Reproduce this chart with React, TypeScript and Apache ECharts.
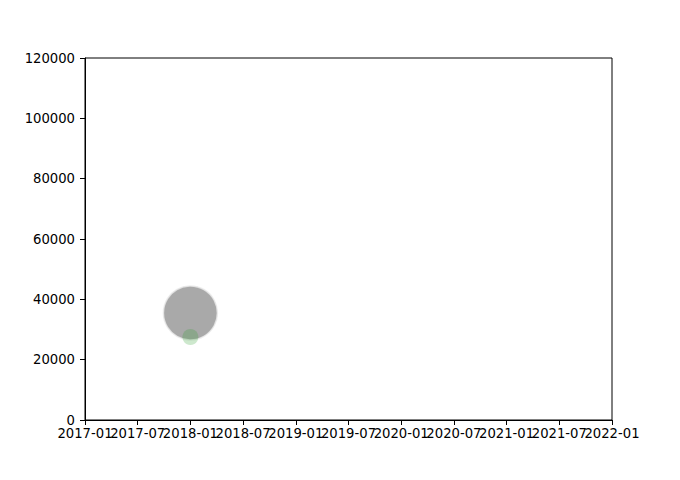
import React, { useEffect, useRef } from "react";
import * as echarts from "echarts";

const xTickLabels = ["2017-01","2017-07","2018-01","2018-07","2019-01","2019-07","2020-01","2020-07","2021-01","2021-07","2022-01"];
const grayDates = ["2018-01"];
const grayValues = [35500];
const graySizes = [54];
const greenDates = ["2018-01"];
const greenValues = [27500];
const greenSizes = [16];

const toMonths = (d: string) => {
  const [y, m] = d.split("-").map(Number);
  return (y - 2017) * 12 + (m - 1);
};
const fromMonths = (v: number) => {
  const y = 2017 + Math.floor(v / 12);
  const m = (v % 12) + 1;
  return `${y}-${m < 10 ? "0" + m : m}`;
};

export default function App() {
  const ref = useRef<HTMLDivElement>(null);
  useEffect(() => {
    if (!ref.current) return;
    const chart = echarts.init(ref.current, null, { renderer: "svg" });
    const font = { fontFamily: "DejaVu Sans", fontSize: 13.2, color: "#000" };
    const xMin = toMonths(xTickLabels[0]);
    const xMax = toMonths(xTickLabels[xTickLabels.length - 1]);
    chart.setOption({
      animation: false,
      grid: { left: 85, right: 68, top: 58, bottom: 60, show: true, borderColor: "#000", borderWidth: 1, backgroundColor: "transparent" },
      xAxis: [
        {
          type: "value",
          min: xMin,
          max: xMax,
          interval: 6,
          splitLine: { show: false },
          axisLine: { lineStyle: { color: "#000", width: 1 } },
          axisTick: { show: true, length: 5, lineStyle: { color: "#000" } },
          axisLabel: { ...font, margin: 7, interval: 0, hideOverlap: false, formatter: (v: number) => (v % 12 === 0 ? "" : fromMonths(v)) },
        },
        {
          type: "value",
          position: "bottom",
          min: xMin,
          max: xMax,
          interval: 12,
          splitLine: { show: false },
          axisLine: { show: false },
          axisTick: { show: false },
          axisLabel: { ...font, margin: 7, interval: 0, showMinLabel: true, showMaxLabel: true, hideOverlap: false, formatter: (v: number) => fromMonths(v) },
        },
      ],
      yAxis: {
        type: "value",
        min: 0,
        max: 120000,
        interval: 20000,
        splitLine: { show: false },
        axisLine: { show: true, lineStyle: { color: "#000", width: 1 } },
        axisTick: { show: true, length: 5, lineStyle: { color: "#000" } },
        axisLabel: { ...font, margin: 10, formatter: (v: number) => String(v) },
      },
      series: [
        {
          type: "scatter",
          xAxisIndex: 0,
          data: grayDates.map((d, i) => [toMonths(d), grayValues[i], graySizes[i]]),
          symbolSize: (v: number[]) => v[2],
          itemStyle: { color: "rgba(120,120,120,0.8)", borderColor: "rgba(235,235,235,1)", borderWidth: 1.5 },
          z: 2,
        },
        {
          type: "scatter",
          xAxisIndex: 0,
          data: greenDates.map((d, i) => [toMonths(d), greenValues[i], greenSizes[i]]),
          symbolSize: (v: number[]) => v[2],
          itemStyle: { color: "rgba(44,160,44,0.3)" },
          z: 3,
        },
      ],
    });
    return () => chart.dispose();
  }, []);
  return <div ref={ref} style={{ width: 680, height: 480, position: "absolute", left: 0, top: 0 }} />;
}
